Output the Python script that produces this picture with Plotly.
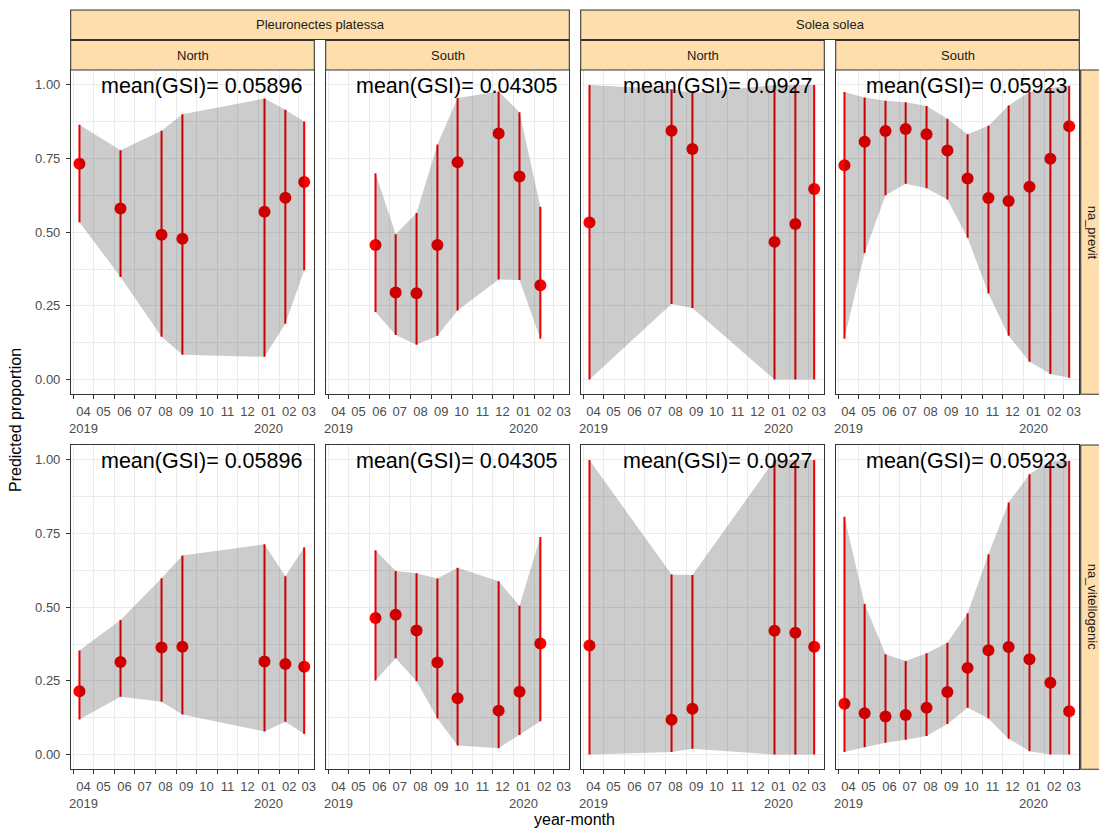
import plotly.graph_objects as go

W, H = 1099, 830

# ---------------- data ----------------
species = ["Pleuronectes platessa", "Solea solea"]
regions = ["North", "South"]
stages = ["na_previt", "na_vitellogenic"]
gsi_labels = ["0.05896", "0.04305", "0.0927", "0.05923"]  # per species-region column

month_ticks = ["2019-04-01", "2019-05-01", "2019-06-01", "2019-07-01", "2019-08-01", "2019-09-01",
               "2019-10-01", "2019-11-01", "2019-12-01", "2020-01-01", "2020-02-01", "2020-03-01"]
month_labels = ["04<br>2019", "05", "06", "07", "08", "09", "10", "11", "12", "01<br>2020", "02", "03"]

dates_pp_north = ["2019-04-10", "2019-06-10", "2019-08-10", "2019-09-10", "2020-01-10", "2020-02-10", "2020-03-09"]
dates_pp_south = ["2019-06-10", "2019-07-10", "2019-08-10", "2019-09-10", "2019-10-10", "2019-12-10",
                  "2020-01-10", "2020-02-10"]
dates_ss_north = ["2019-04-10", "2019-08-10", "2019-09-10", "2020-01-10", "2020-02-10", "2020-03-09"]
dates_ss_south = ["2019-04-10", "2019-05-10", "2019-06-10", "2019-07-10", "2019-08-10", "2019-09-10",
                  "2019-10-10", "2019-11-10", "2019-12-10", "2020-01-10", "2020-02-10", "2020-03-09"]

# na_previt
previt_pp_north_fit = [0.732, 0.580, 0.4915, 0.478, 0.569, 0.617, 0.670]
previt_pp_north_lo = [0.534, 0.348, 0.145, 0.084, 0.077, 0.189, 0.371]
previt_pp_north_hi = [0.864, 0.778, 0.844, 0.900, 0.953, 0.915, 0.875]

previt_pp_south_fit = [0.4565, 0.295, 0.293, 0.4565, 0.737, 0.835, 0.689, 0.320]
previt_pp_south_lo = [0.229, 0.151, 0.118, 0.149, 0.234, 0.339, 0.338, 0.138]
previt_pp_south_hi = [0.700, 0.493, 0.565, 0.797, 0.955, 0.977, 0.907, 0.586]

previt_ss_north_fit = [0.533, 0.844, 0.782, 0.467, 0.528, 0.646]
previt_ss_north_lo = [0.0, 0.256, 0.243, 0.0, 0.0, 0.0]
previt_ss_north_hi = [0.999, 0.985, 0.972, 0.999, 0.999, 0.999]

previt_ss_south_fit = [0.7266, 0.807, 0.843, 0.850, 0.832, 0.777, 0.682, 0.616, 0.606, 0.654, 0.749, 0.859]
previt_ss_south_lo = [0.138, 0.429, 0.625, 0.664, 0.649, 0.611, 0.481, 0.292, 0.149, 0.060, 0.019, 0.006]
previt_ss_south_hi = [0.975, 0.957, 0.946, 0.941, 0.928, 0.885, 0.832, 0.861, 0.930, 0.976, 0.989, 0.997]

# na_vitellogenic
vit_pp_north_fit = [0.215, 0.314, 0.3635, 0.366, 0.316, 0.307, 0.298]
vit_pp_north_lo = [0.119, 0.196, 0.179, 0.136, 0.078, 0.111, 0.070]
vit_pp_north_hi = [0.353, 0.456, 0.598, 0.675, 0.713, 0.605, 0.703]

vit_pp_south_fit = [0.463, 0.4745, 0.421, 0.3126, 0.191, 0.149, 0.213, 0.377]
vit_pp_south_lo = [0.251, 0.327, 0.249, 0.122, 0.031, 0.0215, 0.066, 0.113]
vit_pp_south_hi = [0.693, 0.623, 0.615, 0.597, 0.634, 0.588, 0.505, 0.738]

vit_ss_north_fit = [0.370, 0.118, 0.155, 0.420, 0.413, 0.366]
vit_ss_north_lo = [0.0, 0.009, 0.020, 0.0, 0.0, 0.0]
vit_ss_north_hi = [0.999, 0.611, 0.609, 0.999, 0.999, 0.999]

vit_ss_south_fit = [0.172, 0.140, 0.129, 0.134, 0.1585, 0.212, 0.294, 0.354, 0.365, 0.323, 0.2435, 0.147]
vit_ss_south_lo = [0.009, 0.025, 0.040, 0.050, 0.063, 0.104, 0.1585, 0.122, 0.054, 0.011, 0.0, 0.0]
vit_ss_south_hi = [0.807, 0.511, 0.340, 0.317, 0.344, 0.379, 0.479, 0.6795, 0.855, 0.951, 0.997, 0.997]

col_dates = [dates_pp_north, dates_pp_south, dates_ss_north, dates_ss_south]
panels = [
    [(previt_pp_north_fit, previt_pp_north_lo, previt_pp_north_hi),
     (previt_pp_south_fit, previt_pp_south_lo, previt_pp_south_hi),
     (previt_ss_north_fit, previt_ss_north_lo, previt_ss_north_hi),
     (previt_ss_south_fit, previt_ss_south_lo, previt_ss_south_hi)],
    [(vit_pp_north_fit, vit_pp_north_lo, vit_pp_north_hi),
     (vit_pp_south_fit, vit_pp_south_lo, vit_pp_south_hi),
     (vit_ss_north_fit, vit_ss_north_lo, vit_ss_north_hi),
     (vit_ss_south_fit, vit_ss_south_lo, vit_ss_south_hi)],
]

# ---------------- layout geometry (pixels) ----------------
FONT = "Liberation Sans, Arial, sans-serif"
col_left = [70.7, 325.7, 580.7, 835.7]
col_w = 243.6
row_top = [70.0, 445.0]
row_h = 324.3
x_range = ["2019-03-28", "2020-03-24"]
y_range = [-0.05, 1.05]
TICK_SIZE = 13.0


def fx(px):
    return px / W


def fy(py):
    return 1 - py / H


fig = go.Figure()
layout = dict(
    width=W, height=H,
    margin=dict(l=0, r=0, t=0, b=0, autoexpand=False),
    paper_bgcolor="white", plot_bgcolor="white",
    showlegend=False,
    font=dict(family=FONT),
)
annotations = []
shapes = []

for r in range(2):
    for c in range(4):
        k = r * 4 + c + 1
        xa = "x" if k == 1 else f"x{k}"
        ya = "y" if k == 1 else f"y{k}"
        xname = "xaxis" if k == 1 else f"xaxis{k}"
        yname = "yaxis" if k == 1 else f"yaxis{k}"
        dates = col_dates[c]
        fit, lo, hi = panels[r][c]

        fig.add_trace(go.Scatter(
            x=dates, y=fit, mode="markers", xaxis=xa, yaxis=ya,
            marker=dict(size=12, color="#FF0000", line=dict(width=0)),
            error_y=dict(type="data", symmetric=False,
                         array=[h - m for h, m in zip(hi, fit)],
                         arrayminus=[m - l for m, l in zip(fit, lo)],
                         width=0, thickness=2.0, color="#FF0000"),
            hoverinfo="skip",
        ))
        fig.add_trace(go.Scatter(
            x=list(dates) + list(dates[::-1]), y=list(hi) + list(lo[::-1]),
            mode="lines", fill="toself", fillcolor="rgba(0,0,0,0.2)",
            line=dict(width=0, color="rgba(0,0,0,0)"),
            xaxis=xa, yaxis=ya, hoverinfo="skip",
        ))

        layout[xname] = dict(
            domain=[fx(col_left[c]), fx(col_left[c] + col_w)],
            anchor=ya, type="date", range=x_range,
            tickmode="array", tickvals=month_ticks, ticktext=month_labels,
            tickangle=0, automargin=False,
            ticks="outside", ticklen=3.7, tickwidth=1.07, tickcolor="#333333",
            tickfont=dict(family=FONT, size=TICK_SIZE, color="#4D4D4D"),
            ticklabelshift=10, ticklabelstandoff=1,
            showgrid=True, gridcolor="#EBEBEB", gridwidth=1.07,
            showline=True, mirror=True, linecolor="#333333", linewidth=1.07,
            zeroline=False,
        )
        layout[yname] = dict(
            domain=[fy(row_top[r] + row_h), fy(row_top[r])],
            anchor=xa, range=y_range, automargin=False,
            tickmode="array", tickvals=[0, 0.25, 0.5, 0.75, 1.0],
            ticktext=["0.00", "0.25", "0.50", "0.75", "1.00"],
            showticklabels=(c == 0),
            ticks="outside" if c == 0 else "", ticklen=3.7, tickwidth=1.07, tickcolor="#333333",
            tickfont=dict(family=FONT, size=TICK_SIZE, color="#4D4D4D"),
            ticklabelstandoff=3,
            showgrid=True, gridcolor="#EBEBEB", gridwidth=1.07,
            minor=dict(tickvals=[0.125, 0.375, 0.625, 0.875], showgrid=True,
                       gridcolor="#EBEBEB", gridwidth=0.55, ticks=""),
            showline=True, mirror=True, linecolor="#333333", linewidth=1.07,
            zeroline=False,
        )
        annotations.append(dict(
            xref=xa, yref=ya, x="2020-03-09", y=1.0, text=f"mean(GSI)= {gsi_labels[c]}",
            xanchor="right", yanchor="middle", yshift=-1.5, showarrow=False,
            font=dict(family=FONT, size=21.5, color="black"),
        ))

STRIP_FILL = "#FFDEAD"
STRIP_LINE = "#333333"
strip_font = dict(family=FONT, size=13.0, color="#1A1A1A")

# species strips (top)
for s in range(2):
    x0 = col_left[2 * s]
    x1 = col_left[2 * s + 1] + col_w
    shapes.append(dict(type="rect", xref="paper", yref="paper", x0=fx(x0), x1=fx(x1),
                       y0=fy(39.5), y1=fy(10.0), fillcolor=STRIP_FILL,
                       line=dict(color=STRIP_LINE, width=1.07), layer="above"))
    annotations.append(dict(xref="paper", yref="paper", x=fx((x0 + x1) / 2), y=fy(24.8),
                            text=species[s], showarrow=False, xanchor="center", yanchor="middle",
                            font=strip_font))
# region strips
for c in range(4):
    x0 = col_left[c]
    x1 = x0 + col_w
    shapes.append(dict(type="rect", xref="paper", yref="paper", x0=fx(x0), x1=fx(x1),
                       y0=fy(70.0), y1=fy(40.5), fillcolor=STRIP_FILL,
                       line=dict(color=STRIP_LINE, width=1.07), layer="above"))
    annotations.append(dict(xref="paper", yref="paper", x=fx((x0 + x1) / 2), y=fy(55.3),
                            text=regions[c % 2], showarrow=False, xanchor="center", yanchor="middle",
                            font=strip_font))
# stage strips (right)
for r in range(2):
    y0 = row_top[r]
    y1 = y0 + row_h
    shapes.append(dict(type="rect", xref="paper", yref="paper", x0=fx(1080.7), x1=fx(1106),
                       y0=fy(y1), y1=fy(y0), fillcolor=STRIP_FILL,
                       line=dict(color=STRIP_LINE, width=1.07), layer="above"))
    annotations.append(dict(xref="paper", yref="paper", x=fx(1092.5), y=fy((y0 + y1) / 2),
                            text=stages[r], showarrow=False, xanchor="center", yanchor="middle",
                            textangle=90, font=strip_font))

# axis titles
annotations.append(dict(xref="paper", yref="paper", x=fx(575), y=fy(819), text="year-month",
                        showarrow=False, xanchor="center", yanchor="middle",
                        font=dict(family=FONT, size=16, color="black")))
annotations.append(dict(xref="paper", yref="paper", x=fx(16), y=fy(420), text="Predicted proportion",
                        showarrow=False, xanchor="center", yanchor="middle", textangle=-90,
                        font=dict(family=FONT, size=16, color="black")))

layout["annotations"] = annotations
layout["shapes"] = shapes
fig.update_layout(**layout)

fig.write_html(
    "out.html",
    config={"displayModeBar": False},
    post_script="document.body.style.margin='0';document.body.style.overflow='hidden';",
)
